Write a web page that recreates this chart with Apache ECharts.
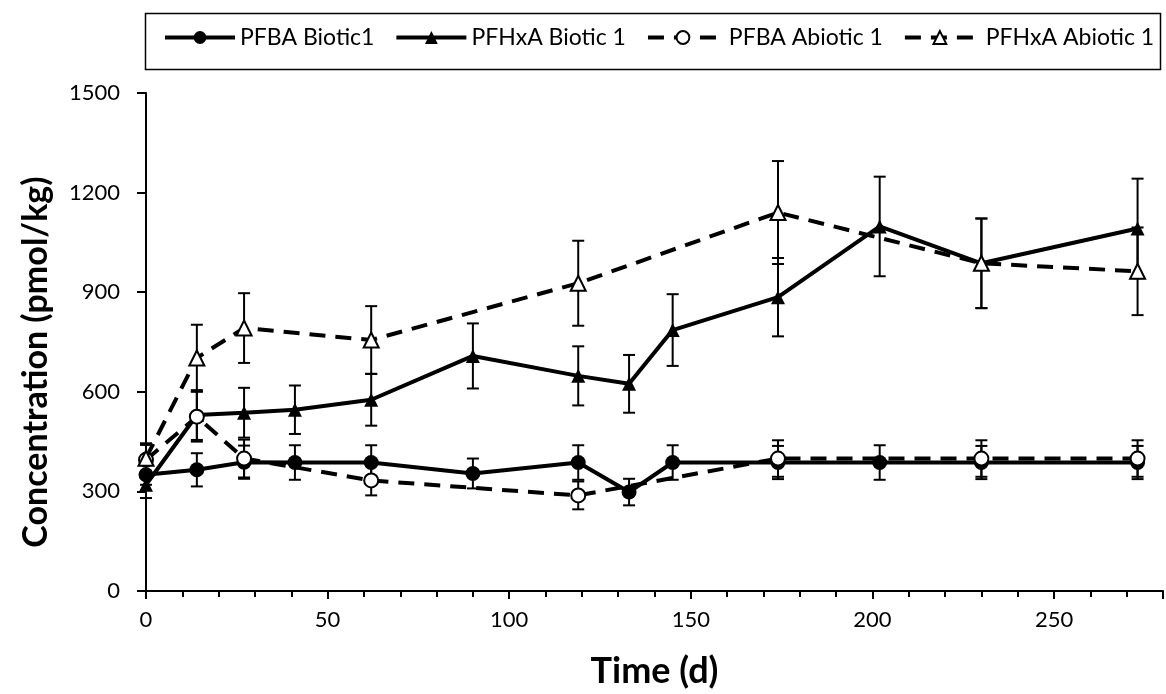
<!DOCTYPE html>
<html>
<head>
<meta charset="utf-8">
<script src="https://cdn.jsdelivr.net/npm/echarts@6/dist/echarts.min.js"></script>
<style>
  html, body { margin: 0; padding: 0; background: #fff; }
  #chart { width: 1166px; height: 694px; }
</style>
</head>
<body>
<div id="chart"></div>
<script>
// sampling days
const daysBiotic = [0, 14, 27, 41, 62, 90, 119, 133, 145, 174, 202, 230, 273];
const daysAbiotic = [0, 14, 27, 62, 119, 174, 230, 273];

// PFBA / PFHxA means and error bars (pmol/kg)
const pfbaBiotic = [350, 365, 388, 387, 387, 354, 387, 298, 387, 387, 387, 387, 387];
const pfbaBioticErr = [30, 50, 50, 52, 52, 45, 52, 40, 52, 50, 52, 50, 50];
const pfhxaBiotic = [320, 530, 537, 546, 576, 708, 648, 624, 786, 885, 1098, 987, 1092];
const pfhxaBioticErr = [40, 75, 75, 73, 78, 98, 89, 87, 108, 118, 150, 135, 150];
const pfbaAbiotic = [395, 525, 399, 333, 288, 399, 399, 399];
const pfbaAbioticErr = [45, 75, 57, 45, 42, 55, 55, 55];
const pfhxaAbiotic = [400, 702, 792, 756, 927, 1140, 987, 963];
const pfhxaAbioticErr = [45, 100, 105, 102, 128, 155, 135, 132];

const seriesNames = ['PFBA Biotic1', 'PFHxA Biotic 1', 'PFBA Abiotic 1', 'PFHxA Abiotic 1'];
const yTicks = [0, 300, 600, 900, 1200, 1500];

const FONT = 'Lato, "Open Sans", sans-serif';

const chart = echarts.init(document.getElementById('chart'));

// vertical error bar with caps, drawn from [day, mean, err]
function errorBars(days, vals, errs) {
  return {
    type: 'custom',
    z: 2,
    silent: true,
    data: days.map((d, i) => [d, vals[i], errs[i]]),
    encode: { x: 0, y: 1 },
    renderItem: function (params, api) {
      const x = api.value(0), y = api.value(1), e = api.value(2);
      const top = api.coord([x, y + e]);
      const bot = api.coord([x, y - e]);
      const w = 6;
      const st = { stroke: '#000', lineWidth: 2 };
      return {
        type: 'group',
        children: [
          { type: 'line', shape: { x1: top[0], y1: top[1], x2: bot[0], y2: bot[1] }, style: st },
          { type: 'line', shape: { x1: top[0] - w, y1: top[1], x2: top[0] + w, y2: top[1] }, style: st },
          { type: 'line', shape: { x1: bot[0] - w, y1: bot[1], x2: bot[0] + w, y2: bot[1] }, style: st }
        ]
      };
    }
  };
}

function lineSeries(name, days, vals, symbol, size, open, dashed) {
  return {
    name: name,
    type: 'line',
    z: 3,
    data: days.map((d, i) => [d, vals[i]]),
    symbol: symbol,
    symbolSize: size,
    showAllSymbol: true,
    lineStyle: { color: '#000', width: 4, type: dashed ? [16, 10] : 'solid' },
    itemStyle: open
      ? { color: '#fff', borderColor: '#000', borderWidth: 2 }
      : { color: '#000', borderColor: '#000', borderWidth: 0 }
  };
}

const option = {
  animation: false,
  backgroundColor: '#fff',
  textStyle: { fontFamily: FONT, color: '#000' },
  grid: { left: 146, top: 93, bottom: 102, right: -8 },
  graphic: [
    {
      type: 'rect',
      left: 143, top: 11,
      shape: { width: 1015, height: 56 },
      style: { fill: 'none', stroke: '#000', lineWidth: 1.5 },
      z: 0
    },
    {
      type: 'text',
      x: 36, y: 362,
      rotation: Math.PI / 2,
      style: {
        text: 'Concentration (pmol/kg)',
        font: 'bold 34px ' + FONT,
        fill: '#000',
        align: 'center',
        verticalAlign: 'middle'
      }
    }
  ],
  legend: {
    data: seriesNames,
    left: 163,
    top: 26,
    itemWidth: 70,
    itemHeight: 16,
    itemGap: 20,
    padding: 0,
    lineStyle: { width: 4 },
    formatter: name => (name.indexOf('Abiotic') >= 0 ? ' ' + name : name),
    textStyle: { fontFamily: FONT, fontSize: 23, color: '#000', padding: [0, 0, 0, 0] }
  },
  xAxis: {
    type: 'value',
    min: 0,
    max: 280,
    interval: 50,
    name: 'Time (d)',
    nameLocation: 'middle',
    nameGap: 62,
    nameTextStyle: { fontFamily: FONT, fontSize: 36, fontWeight: 'bold', color: '#000' },
    axisLine: { show: true, onZero: false, lineStyle: { color: '#000', width: 2 } },
    axisTick: { show: true, inside: false, length: 8, lineStyle: { color: '#000', width: 2 } },
    minorTick: { show: true, splitNumber: 5, length: 6, lineStyle: { color: '#000', width: 2 } },
    axisLabel: {
      fontFamily: FONT, fontSize: 22, color: '#000', margin: 18,
      formatter: v => (v <= 250 ? String(v) : '')
    },
    splitLine: { show: false }
  },
  yAxis: {
    type: 'value',
    min: yTicks[0],
    max: yTicks[yTicks.length - 1],
    interval: 300,
    axisLine: { show: true, lineStyle: { color: '#000', width: 2 } },
    axisTick: { show: true, inside: false, length: 9, lineStyle: { color: '#000', width: 2 } },
    axisLabel: { fontFamily: FONT, fontSize: 22, color: '#000', margin: 26, formatter: v => String(v) },
    splitLine: { show: false }
  },
  series: [
    errorBars(daysBiotic, pfbaBiotic, pfbaBioticErr),
    errorBars(daysBiotic, pfhxaBiotic, pfhxaBioticErr),
    errorBars(daysAbiotic, pfbaAbiotic, pfbaAbioticErr),
    errorBars(daysAbiotic, pfhxaAbiotic, pfhxaAbioticErr),
    lineSeries(seriesNames[0], daysBiotic, pfbaBiotic, 'circle', 15, false, false),
    lineSeries(seriesNames[1], daysBiotic, pfhxaBiotic, 'triangle', 14, false, false),
    lineSeries(seriesNames[2], daysAbiotic, pfbaAbiotic, 'circle', 14, true, true),
    lineSeries(seriesNames[3], daysAbiotic, pfhxaAbiotic, 'triangle', 15, true, true)
  ]
};

chart.setOption(option);
</script>
</body>
</html>
